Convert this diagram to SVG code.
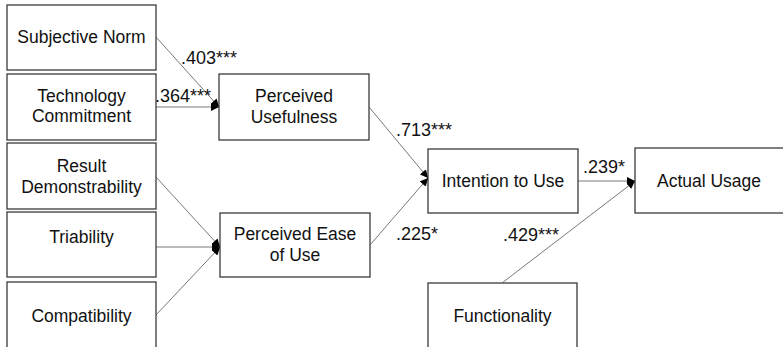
<svg xmlns="http://www.w3.org/2000/svg" width="783" height="347" viewBox="0 0 783 347">
<style>
.box{fill:#fff;stroke:#3a3a3a;stroke-width:1.3}
.t{font-family:"Liberation Sans",Arial,sans-serif;font-size:17.5px;fill:#111;text-anchor:middle}
.lbl{font-family:"Liberation Sans",Arial,sans-serif;font-size:18px;fill:#111}
.c{stroke:#555;stroke-width:0.8;fill:none}
</style>
<defs>
<marker id="ah" viewBox="0 0 10 10" refX="10" refY="5" markerWidth="8" markerHeight="8" markerUnits="userSpaceOnUse" orient="auto">
<path d="M0,0 L10,5 L0,10 z" fill="#000"/>
</marker>
</defs>
<rect width="783" height="347" fill="#fff"/>
<g id="subjective-norm"><rect class="box" x="7" y="5" width="149" height="65"/><text class="t" x="81.5" y="43">Subjective Norm</text></g>
<g id="technology-commitment"><rect class="box" x="7" y="74" width="149" height="66"/><text class="t" x="81.5" y="102">Technology</text><text class="t" x="81.5" y="122">Commitment</text></g>
<g id="result-demonstrability"><rect class="box" x="7" y="143" width="149" height="66"/><text class="t" x="81.5" y="172">Result</text><text class="t" x="81.5" y="193">Demonstrability</text></g>
<g id="triability"><rect class="box" x="7" y="212" width="149" height="65"/><text class="t" x="81.5" y="243">Triability</text></g>
<g id="compatibility"><rect class="box" x="7" y="282" width="149" height="75"/><text class="t" x="81.5" y="322">Compatibility</text></g>
<g id="perceived-usefulness"><rect class="box" x="219" y="74" width="150" height="66"/><text class="t" x="294" y="102">Perceived</text><text class="t" x="294" y="123">Usefulness</text></g>
<g id="perceived-ease-of-use"><rect class="box" x="220" y="213" width="150" height="64"/><text class="t" x="295" y="240">Perceived Ease</text><text class="t" x="295" y="261">of Use</text></g>
<g id="intention-to-use"><rect class="box" x="428" y="149" width="150" height="64"/><text class="t" x="503" y="187">Intention to Use</text></g>
<g id="actual-usage"><rect class="box" x="635" y="148" width="152" height="65"/><text class="t" x="709" y="187">Actual Usage</text></g>
<g id="functionality"><rect class="box" x="428" y="283" width="149" height="75"/><text class="t" x="502.5" y="322">Functionality</text></g>
<g id="connectors">
<line class="c" x1="156" y1="37" x2="219" y2="107" marker-end="url(#ah)"/>
<line class="c" x1="156" y1="107" x2="219" y2="107" marker-end="url(#ah)"/>
<line class="c" x1="156" y1="177" x2="220" y2="247" marker-end="url(#ah)"/>
<line class="c" x1="156" y1="247" x2="220" y2="247" marker-end="url(#ah)"/>
<line class="c" x1="156" y1="315" x2="220" y2="247" marker-end="url(#ah)"/>
<line class="c" x1="369" y1="107" x2="428" y2="178" marker-end="url(#ah)"/>
<line class="c" x1="370" y1="245" x2="428" y2="178" marker-end="url(#ah)"/>
<line class="c" x1="578" y1="181" x2="635" y2="181" marker-end="url(#ah)"/>
<line class="c" x1="502" y1="283" x2="635" y2="181" marker-end="url(#ah)"/>
<text class="lbl" x="181" y="64">.403***</text>
<text class="lbl" x="155" y="102">.364***</text>
<text class="lbl" x="396" y="136">.713***</text>
<text class="lbl" x="396" y="240">.225*</text>
<text class="lbl" x="583" y="173">.239*</text>
<text class="lbl" x="503" y="241">.429***</text>
</g>
</svg>
